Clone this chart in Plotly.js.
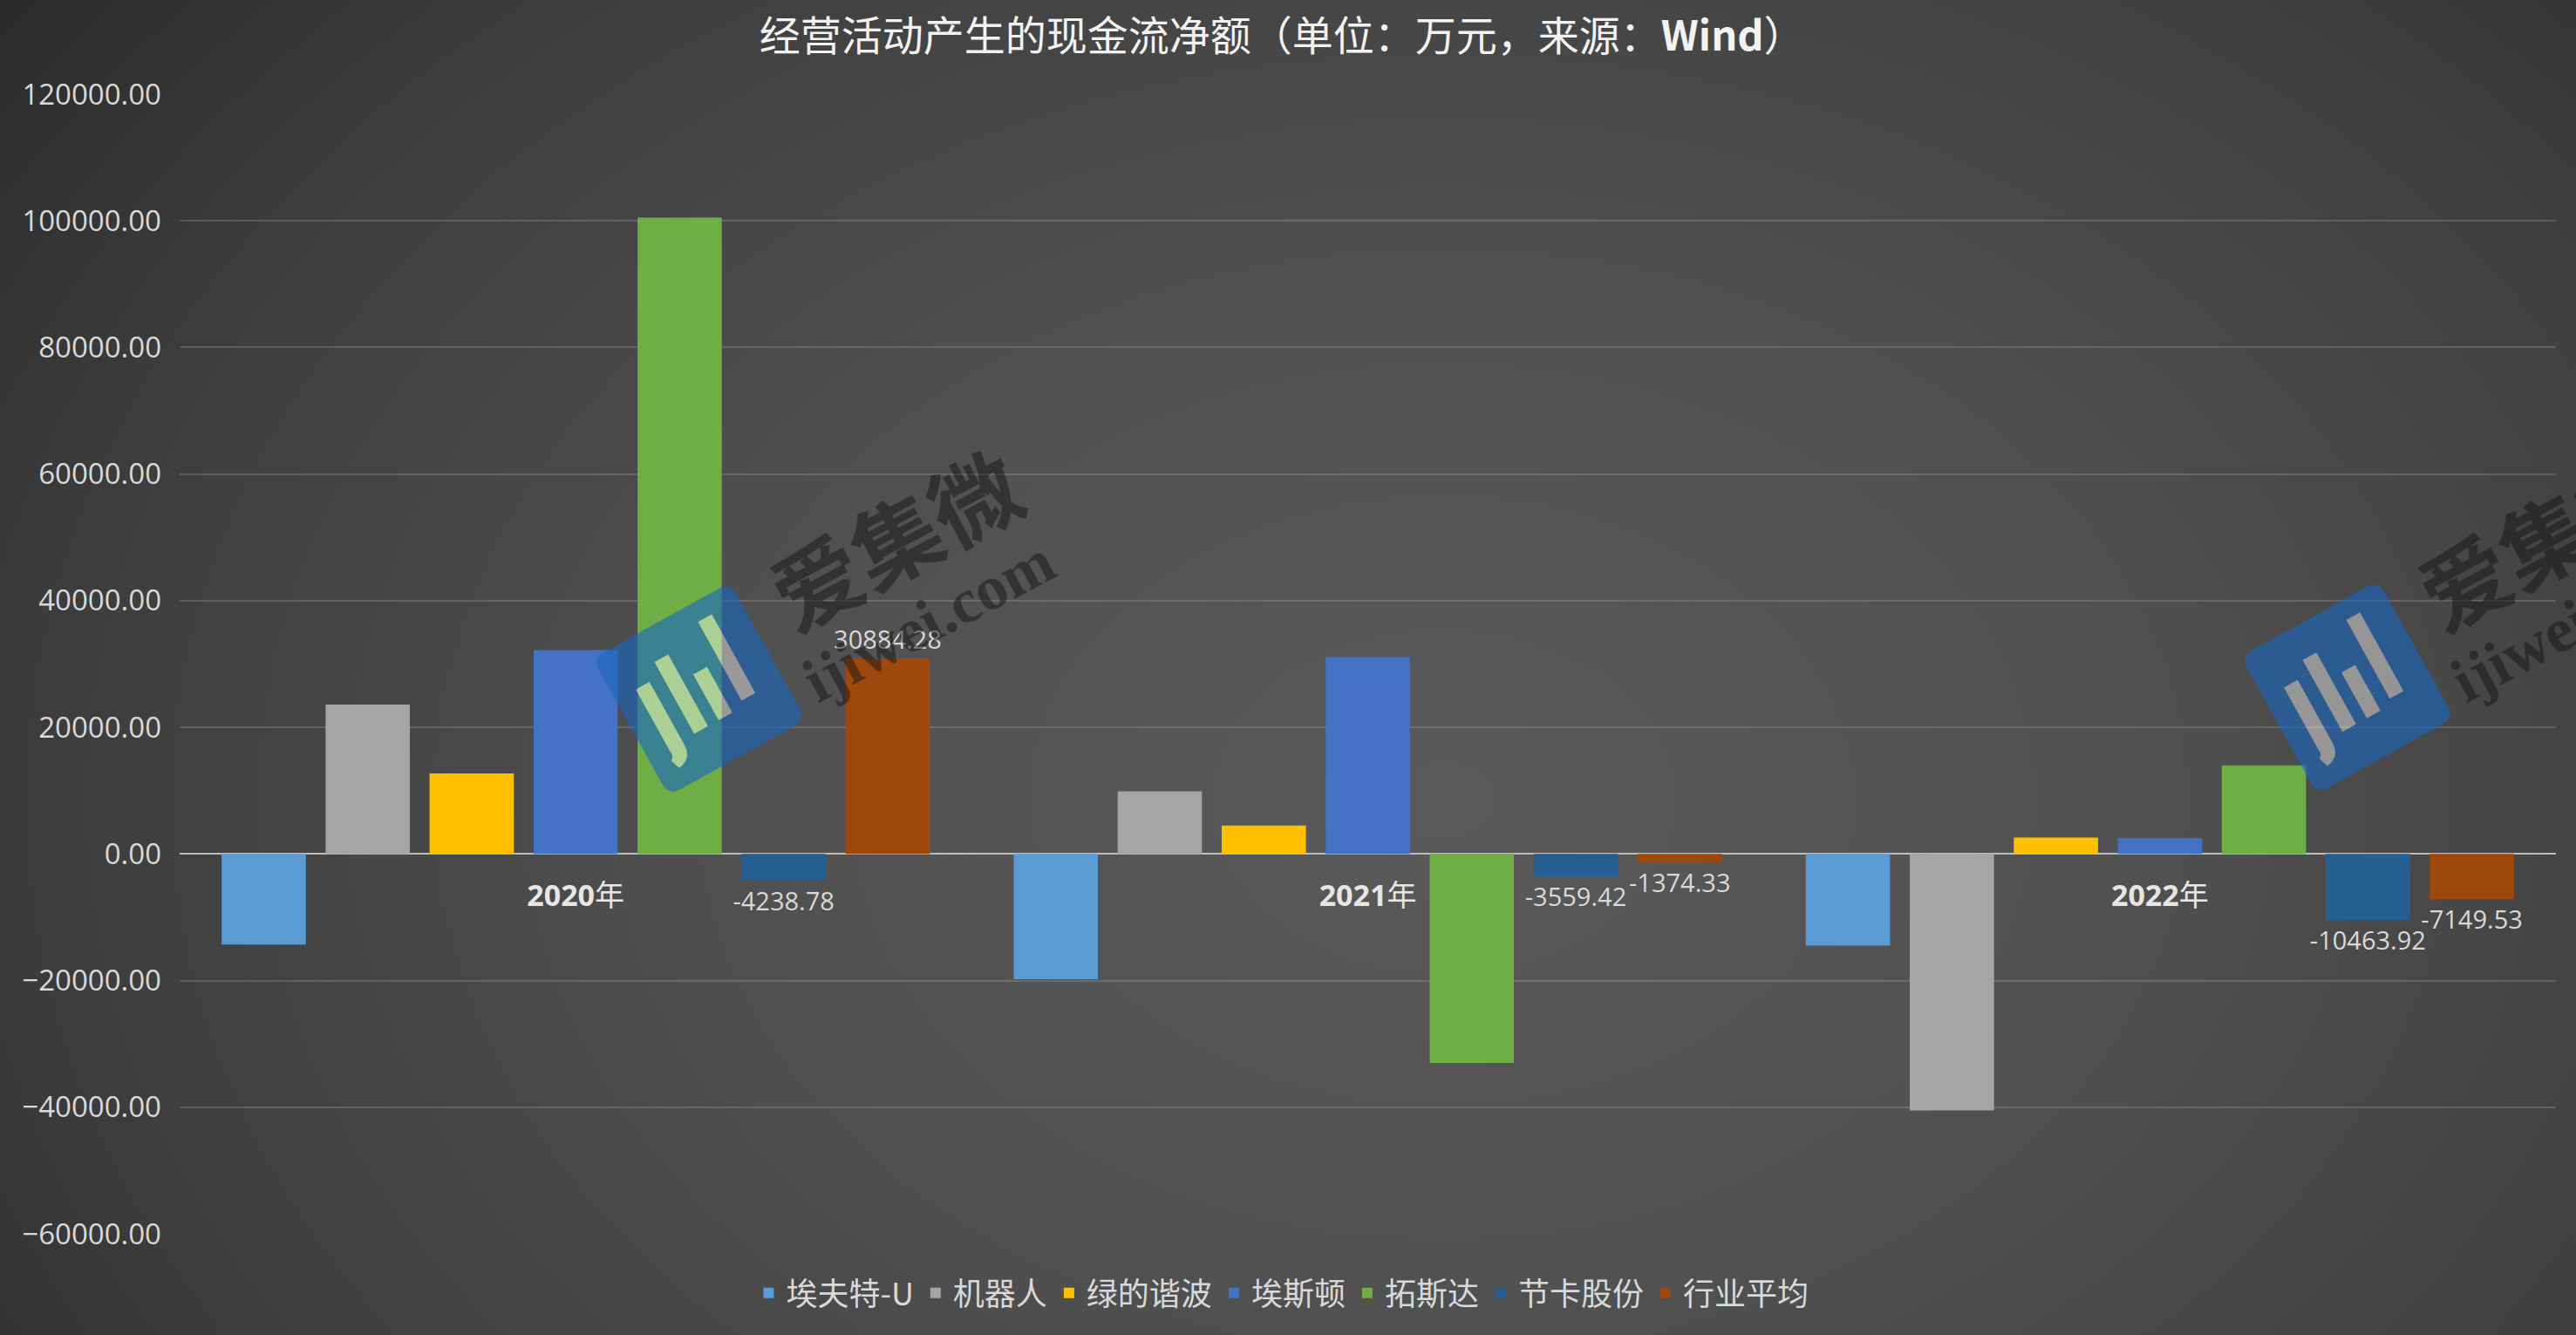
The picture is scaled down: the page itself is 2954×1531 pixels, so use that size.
<!DOCTYPE html>
<html>
<head>
<meta charset="utf-8">
<script src="https://cdn.plot.ly/plotly-3.0.1.min.js"></script>
<style>
  html, body { margin: 0; padding: 0; }
  #chart {
    width: 2954px; height: 1531px;
    background: radial-gradient(ellipse 70% 100% at 56% 60%, #5a5a5a 0%, #505050 40%, #3e3e3e 75%, #2b2b2b 100%);
  }
</style>
</head>
<body>
<div id="chart"></div>
<script>
// ---- data ----
const categories = ['2020年', '2021年', '2022年'];
const categoryLabels = ['<b>2020</b>年', '<b>2021</b>年', '<b>2022</b>年'];
const seriesNames = ['埃夫特-U', '机器人', '绿的谐波', '埃斯顿', '拓斯达', '节卡股份', '行业平均'];
const aftValues = [-14300, -19800, -14500];
const robotValues = [23600, 9900, -40500];
const leaderDriveValues = [12700, 4500, 2600];
const estunValues = [32200, 31100, 2500];
const topstarValues = [100500, -33000, 14000];
const jakaValues = [-4238.78, -3559.42, -10463.92];
const industryAvgValues = [30884.28, -1374.33, -7149.53];
const yTickValues = [-60000, -40000, -20000, 0, 20000, 40000, 60000, 80000, 100000, 120000];

const seriesValues = [aftValues, robotValues, leaderDriveValues, estunValues, topstarValues, jakaValues, industryAvgValues];
const seriesColors = ['#5b9bd5', '#a5a5a5', '#ffc000', '#4472c4', '#6fad47', '#255e91', '#9e480e'];
const labelled = [false, false, false, false, false, true, true];

const traces = seriesNames.map((name, i) => {
  const t = {
    type: 'bar',
    name: name,
    x: categories,
    y: seriesValues[i],
    marker: { color: seriesColors[i], line: { width: 0 } },
    hoverinfo: 'name+y'
  };
  if (labelled[i]) {
    t.texttemplate = '%{y:.2f}';
    t.textposition = 'outside';
    t.constraintext = 'none';
    t.cliponaxis = false;
    t.textfont = { family: 'Open Sans, Noto Sans, sans-serif', size: 29, color: '#d9d9d9' };
  }
  return t;
});

// watermark logo (no text, decoration only)
const logoSvg = "<svg xmlns='http://www.w3.org/2000/svg' width='260' height='260' viewBox='0 0 260 260'>" +
  "<g transform='rotate(-29 130 130)'>" +
  "<path fill-rule='evenodd' fill='#1a66bf' fill-opacity='0.62' d='M54 40 H206 A14 14 0 0 1 220 54 V206 A14 14 0 0 1 206 220 H54 A14 14 0 0 1 40 206 V54 A14 14 0 0 1 54 40 Z " +
  "M66 95 H84 V178 Q84 195 66 198 L62 186 Q68 183 66 176 Z M100 78 H118 V172 H100 Z M132 112 H150 V172 H132 Z M166 62 H184 V165 H166 Z'/>" +
  "<path fill='#ffffff' fill-opacity='0.42' d='M66 95 H84 V178 Q84 195 66 198 L62 186 Q68 183 66 176 Z M100 78 H118 V172 H100 Z M132 112 H150 V172 H132 Z M166 62 H184 V165 H166 Z'/>" +
  "</g></svg>";
const logoSrc = 'data:image/svg+xml;charset=utf-8,' + encodeURIComponent(logoSvg);

const wmFontCJK = 'Noto Sans CJK SC, sans-serif';
const wmFontLatin = 'Liberation Serif, DejaVu Serif, serif';
const wmColor = 'rgba(20,20,20,0.5)';

function wm(text, fx, fy, size, family) {
  return { text: text, xref: 'paper', yref: 'paper', x: (fx - 206) / 2725, y: (1415 - fy) / 1307,
    xanchor: 'center', yanchor: 'middle', showarrow: false, textangle: -28,
    font: { family: family, size: size, color: wmColor } };
}

const layout = {
  width: 2954,
  height: 1531,
  paper_bgcolor: 'rgba(0,0,0,0)',
  plot_bgcolor: 'rgba(0,0,0,0)',
  margin: { l: 206, r: 23, t: 108, b: 116 },
  title: {
    text: '经营活动产生的现金流净额（单位：万元，来源：<b>Wind</b>）',
    font: { family: 'Noto Sans CJK SC, sans-serif', size: 47, color: '#f2f2f2' },
    x: 0.4977, xanchor: 'center',
    y: 0.973, yanchor: 'middle', yref: 'container'
  },
  barmode: 'group',
  bargap: 0.081,
  bargroupgap: 0.19,
  showlegend: true,
  legend: {
    orientation: 'h',
    x: 0.464, xanchor: 'center',
    y: -0.052, yanchor: 'middle',
    font: { family: 'Noto Sans CJK SC, sans-serif', size: 36, color: '#d9d9d9' },
    bgcolor: 'rgba(0,0,0,0)',
    itemwidth: 30,
    traceorder: 'normal'
  },
  xaxis: {
    type: 'category',
    tickvals: categories,
    ticktext: categoryLabels,
    anchor: 'free',
    position: 1 / 3,
    showline: false,
    showgrid: false,
    zeroline: false,
    ticks: '',
    ticklabelstandoff: 25,
    tickfont: { family: 'Open Sans, Noto Sans CJK SC, sans-serif', size: 34, color: '#e6e6e6' },
    fixedrange: true
  },
  yaxis: {
    range: [-60000, 120000],
    tickvals: yTickValues,
    tickformat: '.2f',
    showgrid: true,
    gridcolor: 'rgba(200,200,200,0.22)',
    gridwidth: 2,
    zeroline: true,
    zerolinecolor: '#bdbdbd',
    zerolinewidth: 2,
    showline: false,
    ticks: '',
    ticklabelstandoff: 20,
    tickfont: { family: 'Open Sans, Noto Sans, sans-serif', size: 33, color: '#d9d9d9' },
    fixedrange: true
  },
  images: [
    { source: logoSrc, xref: 'paper', yref: 'paper', x: 0.2187, y: 0.478, sizex: 0.0954, sizey: 0.199,
      xanchor: 'center', yanchor: 'middle', sizing: 'stretch', layer: 'above' },
    { source: logoSrc, xref: 'paper', yref: 'paper', x: 0.9123, y: 0.4797, sizex: 0.0954, sizey: 0.199,
      xanchor: 'center', yanchor: 'middle', sizing: 'stretch', layer: 'above' }
  ],
  annotations: [
    wm('<b>爱集微</b>', 1025, 615, 102, wmFontCJK),
    wm('<b>ijiwei.com</b>', 1065, 712, 72, wmFontLatin),
    wm('<b>爱集微</b>', 2915, 615, 102, wmFontCJK),
    wm('<b>ijiwei.com</b>', 2955, 712, 72, wmFontLatin)
  ]
};

Plotly.newPlot('chart', traces, layout, { displayModeBar: false, responsive: false });
</script>
</body>
</html>
